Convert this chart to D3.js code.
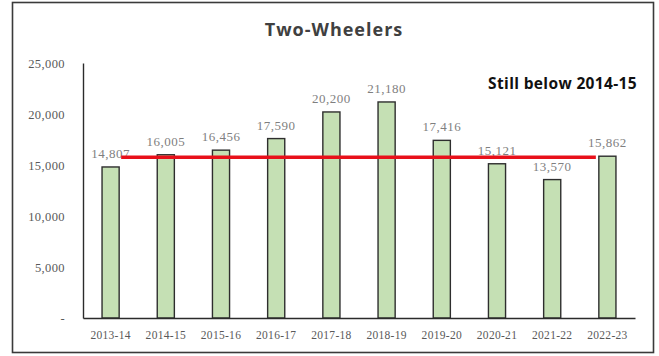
<!DOCTYPE html>
<html>
<head>
<meta charset="utf-8">
<script src="https://cdn.jsdelivr.net/npm/d3@7"></script>
<style>
  html, body { margin: 0; padding: 0; background: #fff; }
  svg { display: block; }
</style>
</head>
<body>
<svg id="chart" width="659" height="356"></svg>
<script>
// Two-wheeler sales by fiscal year (thousand units)
const years = ["2013-14","2014-15","2015-16","2016-17","2017-18","2018-19","2019-20","2020-21","2021-22","2022-23"];
const sales = [14807, 16005, 16456, 17590, 20200, 21180, 17416, 15121, 13570, 15862];
const yTicks = [0, 5000, 10000, 15000, 20000, 25000];
const referenceLevel = 15750;
const titleText = "Two-Wheelers";
const noteText = "Still below 2014-15";

const svg = d3.select("#chart");
const W = 659, H = 356;
const margin = { left: 83, right: 24, top: 63, bottom: 38 };

// outer frame
svg.append("rect")
  .attr("x", 12.5).attr("y", 2.5)
  .attr("width", 641).attr("height", 350)
  .attr("fill", "#fff")
  .attr("stroke", "#3a3a3a")
  .attr("stroke-width", 1.6);

const x = d3.scaleBand()
  .domain(years)
  .range([margin.left, W - margin.right])
  .paddingInner(0.69)
  .paddingOuter(0.345);

const y = d3.scaleLinear()
  .domain([0, 25000])
  .range([H - margin.bottom, margin.top]);

const fmt = d3.format(",");
const serif = "'Liberation Serif', 'DejaVu Serif', serif";
const sans = "'Open Sans', Lato, 'Noto Sans', sans-serif";

// title
svg.append("text")
  .attr("x", 334).attr("y", 36)
  .attr("text-anchor", "middle")
  .attr("font-family", sans)
  .attr("font-weight", "bold")
  .attr("font-size", 18)
  .attr("letter-spacing", 1)
  .attr("fill", "#404040")
  .text(titleText);

// y axis
const yAxis = d3.axisLeft(y)
  .tickValues(yTicks)
  .tickSize(0)
  .tickPadding(18)
  .tickFormat(d => d === 0 ? "-" : fmt(d));
const gy = svg.append("g")
  .attr("transform", `translate(${margin.left},0)`)
  .call(yAxis);
gy.select(".domain").attr("stroke", "#2b2b2b").attr("stroke-width", 1.4);
gy.selectAll("text")
  .attr("font-family", serif)
  .attr("font-size", 12.5)
  .attr("letter-spacing", 0.4)
  .attr("fill", "#595959");

// bars
svg.append("g").selectAll("rect")
  .data(years)
  .join("rect")
  .attr("x", d => x(d))
  .attr("y", (d, i) => y(sales[i]))
  .attr("width", x.bandwidth())
  .attr("height", (d, i) => y(0) - y(sales[i]))
  .attr("fill", "#c5e0b4")
  .attr("stroke", "#2e2e2e")
  .attr("stroke-width", 1.4);

// value labels
svg.append("g").selectAll("text")
  .data(years)
  .join("text")
  .attr("x", d => x(d) + x.bandwidth() / 2)
  .attr("y", (d, i) => y(sales[i]) - 9)
  .attr("text-anchor", "middle")
  .attr("font-family", serif)
  .attr("font-size", 13)
  .attr("letter-spacing", 0.5)
  .attr("fill", "#7f7f7f")
  .text((d, i) => fmt(sales[i]));

// x axis
const xAxis = d3.axisBottom(x).tickSize(0).tickPadding(13);
const gx = svg.append("g")
  .attr("transform", `translate(0,${y(0)})`)
  .call(xAxis);
gx.select(".domain").attr("stroke", "#2b2b2b").attr("stroke-width", 1.4);
gx.selectAll("text")
  .attr("font-family", serif)
  .attr("font-size", 11.5)
  .attr("letter-spacing", 0.3)
  .attr("fill", "#595959");

// reference level line
svg.append("line")
  .attr("x1", x(years[0]) + x.bandwidth() + 2)
  .attr("x2", x(years[years.length - 1]) - 3)
  .attr("y1", y(referenceLevel))
  .attr("y2", y(referenceLevel))
  .attr("stroke", "#e8101a")
  .attr("stroke-width", 3.5);

// annotation
svg.append("text")
  .attr("x", 637).attr("y", 89)
  .attr("text-anchor", "end")
  .attr("font-family", sans)
  .attr("font-weight", "bold")
  .attr("font-size", 15.5)
  .attr("letter-spacing", 0.35)
  .attr("fill", "#111")
  .text(noteText);
</script>
</body>
</html>
